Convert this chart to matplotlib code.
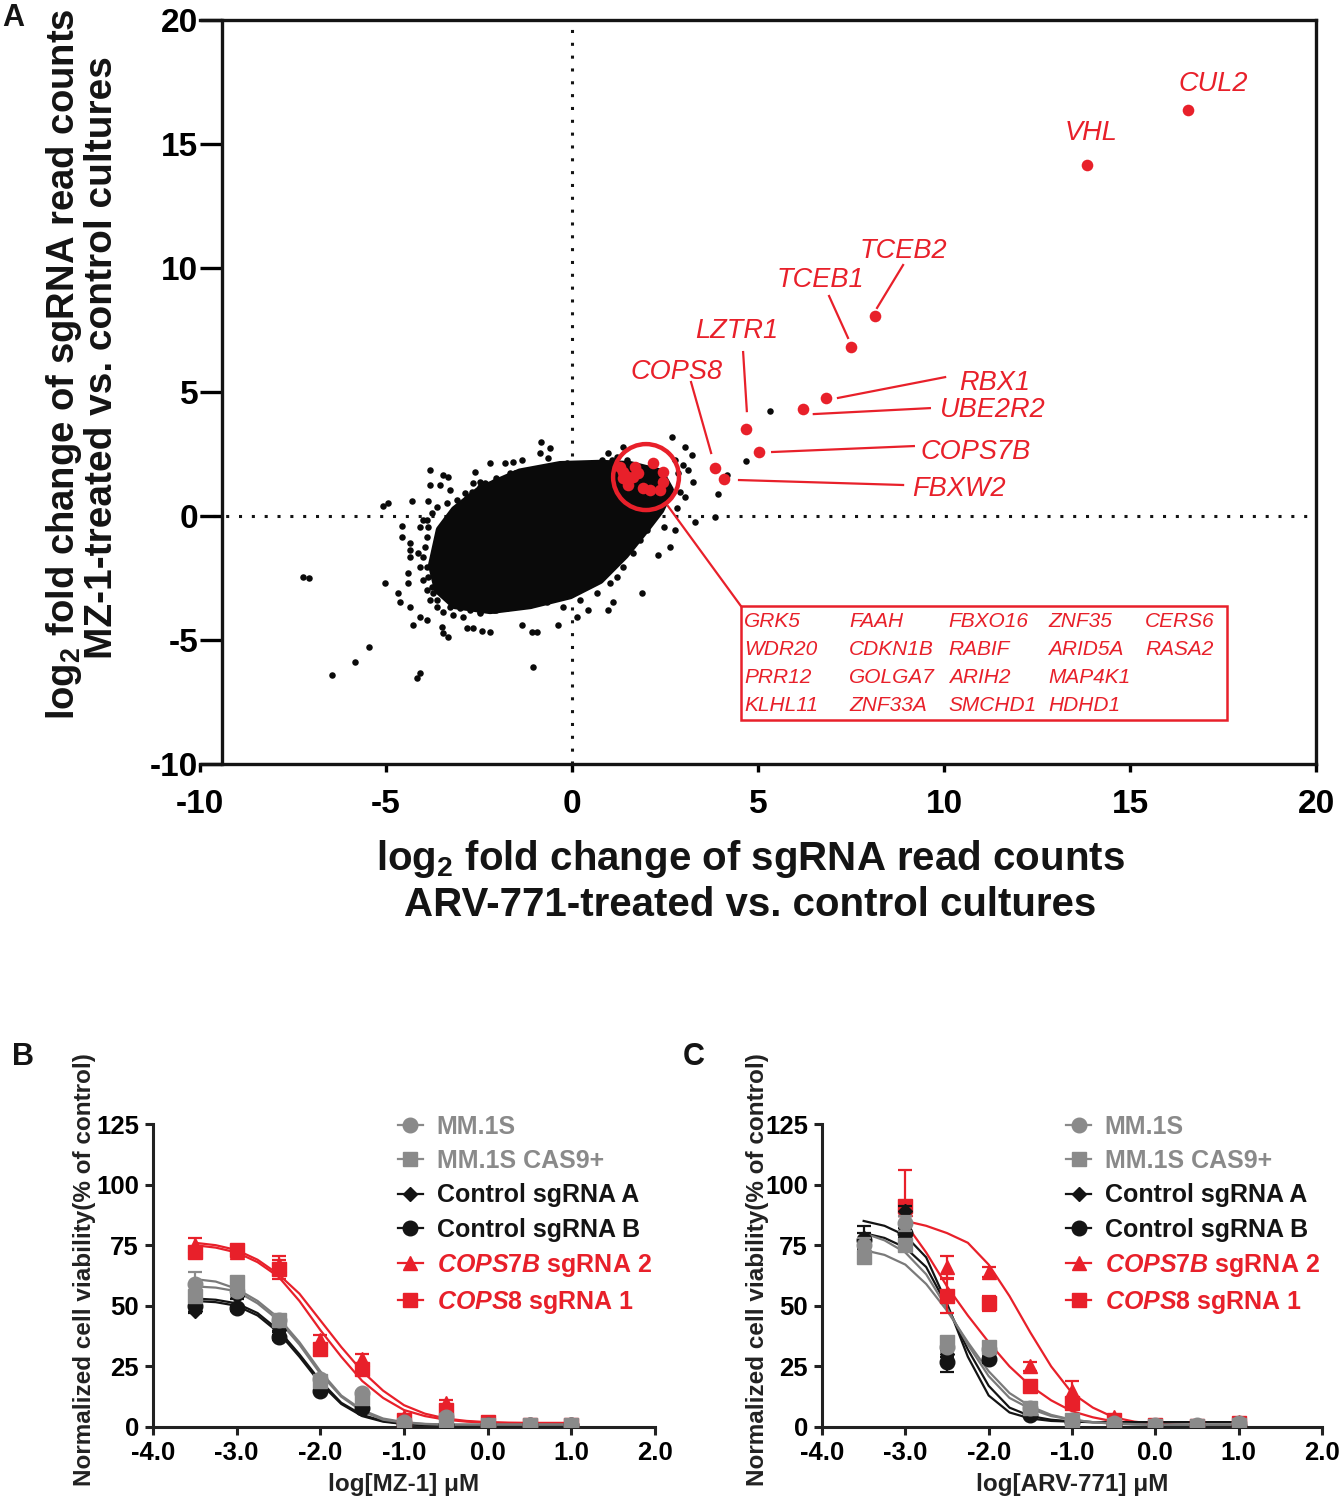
import matplotlib
matplotlib.use('Agg')
import matplotlib.pyplot as plt
from matplotlib.patches import Ellipse, Rectangle
from matplotlib.lines import Line2D

plt.rcParams['font.family'] = ['Liberation Sans', 'DejaVu Sans']
plt.rcParams['font.weight'] = 'bold'
plt.rcParams['axes.unicode_minus'] = False
plt.rcParams['mathtext.fontset'] = 'custom'
plt.rcParams['mathtext.rm'] = 'Liberation Sans:bold'
plt.rcParams['mathtext.bf'] = 'Liberation Sans:bold'
plt.rcParams['mathtext.it'] = 'Liberation Sans:italic:bold'

RED = '#e8202a'
GRAY = '#8a8a8a'
BLACK = '#141414'

# ---------------- panel A data ----------------
# labelled hits (ARV-771 log2FC, MZ-1 log2FC)
hit_genes = ['CUL2', 'VHL', 'TCEB2', 'TCEB1', 'RBX1', 'UBE2R2', 'LZTR1', 'COPS7B', 'COPS8', 'FBXW2']
hit_x = [16.56, 13.84, 8.15, 7.50, 6.83, 6.21, 4.68, 5.03, 3.84, 4.09]
hit_y = [16.37, 14.15, 8.06, 6.81, 4.76, 4.31, 3.51, 2.58, 1.94, 1.49]

# hits inside the red circle
circled_x = [1.29, 1.69, 2.18, 2.45, 1.37, 1.64, 1.51, 1.91, 2.10, 2.37, 2.45, 1.37, 1.77, 1.45]
circled_y = [1.98, 1.98, 2.14, 1.77, 1.53, 1.57, 1.25, 1.13, 1.05, 1.05, 1.37, 1.77, 1.73, 1.60]
circled_genes = [['GRK5', 'WDR20', 'PRR12', 'KLHL11'],
                 ['FAAH', 'CDKN1B', 'GOLGA7', 'ZNF33A'],
                 ['FBXO16', 'RABIF', 'ARIH2', 'SMCHD1'],
                 ['ZNF35', 'ARID5A', 'MAP4K1', 'HDHD1'],
                 ['CERS6', 'RASA2']]

# outline of the saturated core of the sgRNA cloud
cloud_x = [-3.76, -3.55, -3.15, -2.47, -1.40, -0.32, 0.75, 1.56, 2.37, 2.63, 2.37,
           1.96, 1.42, 0.75, -0.05, -1.13, -2.20, -3.15, -3.60]
cloud_y = [-1.98, -0.56, 0.24, 1.05, 1.75, 2.05, 2.10, 2.05, 1.75, 1.05, 0.24,
           -0.56, -1.57, -2.58, -3.19, -3.59, -3.79, -3.59, -2.98]

# individual sgRNAs around the core
other_x = [-0.82, -0.59, -0.86, -0.64, -1.35, -1.58, -1.80, -2.20, -3.82, -3.46, -3.32, -2.61,
           -0.14, 1.38, 2.68, 3.04, 3.22, 2.99, 3.26, 2.90, 3.04, 2.81, 3.31, 2.46, 2.77, 2.63,
           2.32, 1.87, 1.11, 0.98, 0.44, 0.13, -0.37, -0.95, -1.08, -1.04, -1.35, -2.20, -2.43,
           -2.65, -2.83, -3.32, -3.46, -3.50, -3.91, -4.09, -4.27, -4.35, -4.67, -4.62, -5.03,
           -5.47, -5.83, -6.46, -4.18, -4.09, -7.22, -7.06, -4.58, -4.58, -4.35, -4.35, -4.35,
           -4.40, -4.40, -5.07, -4.94, -4.31, -3.86, -3.82, -3.55, -3.28, 3.84,
           -2.65, -2.47, -2.25, -2.03, -1.67, -1.40, -1.04, -0.68, -0.41, 0.04, 0.30, 0.57, 0.80,
           0.98, 1.11, 2.77, 2.86, 3.13, -4.09, -3.91, -3.77, -3.64, -3.37, -3.10, -2.88, -4.13,
           -4.09, -4.00, -3.91, -3.82, -3.64, -3.46, -3.19, -2.92, -2.47, -2.03, -1.58, -1.13,
           -0.68, -0.23, 0.22, 0.66, 1.02, 1.20, 1.38, 1.65, 1.83, 2.01, 2.10, 2.19, 2.28,
           5.32, 4.68, 3.92, 4.17,
           -2.83, -2.70, -2.47, -2.34, -2.11, -1.94, -1.67, -1.53, -1.22, -0.95, -0.77, -0.50,
           -0.28, -0.05, 0.22, 0.44, 0.66, 0.89, 1.07, 1.20, 1.47, -4.00, -3.86, -3.91, -3.95,
           -4.00, -3.91, -3.86, -3.77, -3.73, -3.64, -3.28, -3.01, -2.74, -2.47, -2.11, -1.76,
           -1.40, -1.04, -0.68, -0.32, -0.05, 0.26, 0.53, 0.75, 0.98, 1.16, 1.34, 1.51, 1.65,
           1.78, 1.92, 2.01, 2.10, 2.19]
other_y = [3.00, 2.73, 2.53, 2.33, 2.26, 2.19, 2.12, 2.12, 1.85, 1.65, 1.59, 1.79,
           2.12, 2.80, 3.20, 2.80, 2.46, 2.06, 1.38, 0.98, 0.78, 0.31, -0.23, -0.43, -0.56, -1.24,
           -1.57, -3.12, -3.45, -3.79, -3.79, -4.06, -4.40, -4.66, -4.66, -6.08, -4.40, -4.66, -4.62,
           -4.53, -4.53, -4.87, -4.73, -4.46, -4.19, -4.06, -4.40, -3.66, -3.12, -3.45, -2.69,
           -5.27, -5.90, -6.41, -6.55, -6.34, -2.45, -2.49, -0.83, -0.40, -1.08, -1.37, -1.64,
           -2.31, -2.72, 0.40, 0.51, 0.62, 0.62, 1.25, 1.25, 1.05, -0.03,
           1.32, 1.38, 1.05, 1.52, 1.72, 1.79, 1.85, 1.92, 1.85, 1.99, 2.06, 2.12, 2.26,
           2.53, 1.99, 2.26, 1.72, 1.85, -0.43, -0.16, 0.11, 0.38, 0.51, 0.65, 0.91, -1.51,
           -2.04, -2.58, -2.98, -3.39, -3.66, -3.86, -3.99, -4.06, -3.92, -3.79, -3.66, -3.59,
           -3.45, -3.66, -3.39, -3.12, -2.72, -2.45, -2.04, -1.51, -0.97, -0.56, -0.16, 0.11, 0.51,
           4.23, 2.22, 0.89, 1.65,
           0.71, 0.98, 1.18, 1.32, 1.38, 1.45, 1.52, 1.72, 1.59, 1.72, 1.85, 1.99,
           1.72, 1.85, 1.92, 1.85, 1.99, 2.06, 2.26, 2.39, 2.26, -0.16, -0.43, -0.83, -1.24,
           -1.64, -2.04, -2.45, -2.85, -3.12, -3.39, -3.66, -3.72, -3.79, -3.86, -3.79, -3.72,
           -3.59, -3.45, -3.39, -3.25, -3.12, -2.92, -2.72, -2.45, -2.18, -1.91, -1.64, -1.30, -0.97,
           -0.70, -0.43, -0.03, 0.31, 0.71]

# label placement: text (x, y) and leader line (x0, y0, x1, y1)
label_text_pos = {'CUL2': (17.23, 17.42), 'VHL': (13.95, 15.44), 'TCEB2': (8.92, 10.69),
                  'TCEB1': (6.67, 9.52), 'LZTR1': (4.44, 7.46), 'COPS8': (2.80, 5.81),
                  'RBX1': (11.37, 5.36), 'UBE2R2': (11.32, 4.27), 'COPS7B': (10.86, 2.58),
                  'FBXW2': (10.40, 1.09)}
leader_lines = {'TCEB2': (8.90, 10.12, 8.20, 8.39), 'TCEB1': (6.91, 8.87, 7.42, 7.18),
                'LZTR1': (4.60, 6.61, 4.70, 4.23), 'COPS8': (3.20, 5.40, 3.74, 2.54),
                'RBX1': (10.03, 5.60, 7.15, 4.76), 'UBE2R2': (9.62, 4.35, 6.50, 4.11),
                'COPS7B': (9.19, 2.82, 5.38, 2.58), 'FBXW2': (8.90, 1.25, 4.49, 1.45)}

# ---------------- panels B / C data ----------------
series_names = ['MM.1S', 'MM.1S CAS9+', 'Control sgRNA A', 'Control sgRNA B',
                'COPS7B sgRNA 2', 'COPS8 sgRNA 1']
conc = [-3.5, -3.0, -2.5, -2.0, -1.5, -1.0, -0.5, 0.0, 0.5, 1.0]
nan = float('nan')

mz1_vals = {
    'MM.1S': [59, 56, 44, 20, 14, 2, 4, 1, 1, 1],
    'MM.1S CAS9+': [54, 60, 44, 19, 12, 1, 3, 1, 1, 1],
    'Control sgRNA A': [48, 54, 40, 17, 8, 1, 1, 1, 1, 1],
    'Control sgRNA B': [50, 49, 37, 15, 8, 1, 1, 1, 1, 1],
    'COPS7B sgRNA 2': [75, 72, 67, 36, 28, 4, 10, 2, 1, 1],
    'COPS8 sgRNA 1': [72, 73, 65, 32, 24, 3, 7, 2, 1, 1],
}
mz1_err = {
    'MM.1S': [5, 2, 2, 1, 1, 0.5, 0.5, 0.5, 0.3, 0.3],
    'MM.1S CAS9+': [2, 2, 2, 1, 1, 0.5, 0.5, 0.5, 0.3, 0.3],
    'Control sgRNA A': [1, 1, 1, 1, 1, 0.5, 0.5, 0.3, 0.3, 0.3],
    'Control sgRNA B': [1, 1, 1, 1, 1, 0.5, 0.5, 0.3, 0.3, 0.3],
    'COPS7B sgRNA 2': [3, 1, 3.5, 2, 2, 0.5, 1, 0.5, 0.3, 0.3],
    'COPS8 sgRNA 1': [2, 1.5, 4, 2, 2, 0.5, 1, 0.5, 0.3, 0.3],
}
arv_vals = {
    'MM.1S': [75, 84, 33, 32, 8, 3, 1.5, 1, 1, 1.5],
    'MM.1S CAS9+': [70, 75, 35, 33, 8, 3, 1, 0.5, 0.5, 1],
    'Control sgRNA A': [78, 89, 30, 28, 6, 2, 1, 1, 1, 1],
    'Control sgRNA B': [77, 80, 27, 28, 5, 2, 1, 0.5, 0.5, 0.5],
    'COPS7B sgRNA 2': [nan, 90, 66, 64, 25, 15, 4, 1, 1, 2],
    'COPS8 sgRNA 1': [nan, 91, 54, 51, 17, 10, 3, 1, 0.5, 1.5],
}
arv_err = {
    'MM.1S': [3, 3, 2, 2, 1, 0.5, 0.5, 0.3, 0.3, 0.3],
    'MM.1S CAS9+': [1, 1, 1, 1, 1, 0.5, 0.5, 0.3, 0.3, 0.3],
    'Control sgRNA A': [5, 2, 1, 1, 1, 0.5, 0.5, 0.3, 0.3, 0.3],
    'Control sgRNA B': [3, 2, 4.5, 1.5, 1, 0.5, 0.5, 0.3, 0.3, 0.3],
    'COPS7B sgRNA 2': [nan, 3, 4.5, 2, 2, 4, 1, 0.5, 0.3, 0.8],
    'COPS8 sgRNA 1': [nan, 15, 7, 3, 2, 2, 1, 0.5, 0.3, 0.5],
}

# fitted dose-response curves
fit_x = [-3.5, -3.25, -3.0, -2.75, -2.5, -2.25, -2.0, -1.75, -1.5, -1.25,
         -1.0, -0.75, -0.5, -0.25, 0.0, 0.25, 0.5, 0.75, 1.0]
fit_x_late = [-3.0, -2.75, -2.5, -2.25, -2.0, -1.75, -1.5, -1.25,
              -1.0, -0.75, -0.5, -0.25, 0.0, 0.25, 0.5, 0.75, 1.0]
mz1_fit = {
    'MM.1S': [61, 60, 57, 52, 45, 35, 23, 13, 7, 3.5, 2, 1.3, 1, 1, 1, 1, 1, 1, 1],
    'MM.1S CAS9+': [58, 57.5, 56, 51, 44, 34, 22, 12.5, 6.5, 3, 1.8, 1.2, 1, 1, 1, 1, 1, 1, 1],
    'Control sgRNA A': [53, 52.5, 51, 47, 40, 30, 19, 10, 5, 2.5, 1.3, 0.8, 0.6, 0.5, 0.5, 0.5, 0.5, 0.5, 0.5],
    'Control sgRNA B': [52, 51.5, 50, 46, 39, 29, 18, 9.5, 4.5, 2.2, 1.2, 0.7, 0.5, 0.5, 0.5, 0.5, 0.5, 0.5, 0.5],
    'COPS7B sgRNA 2': [76, 75, 73, 69, 63, 55, 44, 33, 23, 15, 9, 5.5, 3.5, 2.5, 2, 1.8, 1.7, 1.7, 1.7],
    'COPS8 sgRNA 1': [75, 74, 72, 68, 62, 52, 40, 29, 19, 12, 7, 4.5, 3, 2.2, 1.8, 1.6, 1.5, 1.5, 1.5],
}
arv_fit = {
    'MM.1S': [80, 77, 72, 63, 49, 34, 21, 12, 7.5, 4.5, 3, 2, 1.5, 1.2, 1, 1, 1, 1, 1],
    'MM.1S CAS9+': [73, 71, 67, 59, 48, 35, 23, 14, 8.5, 5, 3, 2, 1.3, 1, 0.8, 0.7, 0.7, 0.7, 0.7],
    'Control sgRNA A': [85, 83, 79, 70, 51, 29, 13, 6, 3.5, 2.5, 2.2, 2, 2, 2, 2, 2, 2, 2, 2],
    'Control sgRNA B': [80, 78, 74, 66, 50, 32, 17, 8, 4.5, 3, 2.3, 2, 2, 2, 2, 2, 2, 2, 2],
    'COPS7B sgRNA 2': [85, 83, 80, 76, 67, 54, 39, 25, 14, 8, 4, 2.2, 1.3, 0.9, 0.7, 0.6, 0.6],
    'COPS8 sgRNA 1': [84, 72, 58, 46, 35, 25, 17, 11, 6.5, 4, 2.3, 1.5, 1, 0.7, 0.6, 0.5, 0.5],
}

styles = {
    'MM.1S': (GRAY, 'o', 10.5),
    'MM.1S CAS9+': (GRAY, 's', 10.5),
    'Control sgRNA A': (BLACK, 'D', 7.5),
    'Control sgRNA B': (BLACK, 'o', 10.5),
    'COPS7B sgRNA 2': (RED, '^', 10.5),
    'COPS8 sgRNA 1': (RED, 's', 10.5),
}
legend_labels = ['MM.1S', 'MM.1S CAS9+', 'Control sgRNA A', 'Control sgRNA B',
                 r'$\mathit{COPS7B}$ sgRNA 2', r'$\mathit{COPS8}$ sgRNA 1']

W, H = 1341, 1500
fig = plt.figure(figsize=(W / 100, H / 100), dpi=100)


def px_box(l, t, r, b):
    return [l / W, 1 - b / H, (r - l) / W, (b - t) / H]


# ================= panel A =================
ax = fig.add_axes(px_box(200, 20, 1316, 764))
ax.set_xlim(-10, 20)
ax.set_ylim(-10, 20)
ax.axvline(0, color=BLACK, lw=2.2, ls=(0, (1, 3.2)), zorder=1)
ax.axhline(0, color=BLACK, lw=2.2, ls=(0, (1, 3.2)), zorder=1)
ax.fill(cloud_x, cloud_y, color='#0a0a0a', lw=6, joinstyle='round', zorder=2)
ax.scatter(other_x, other_y, s=22, color='#0a0a0a', lw=0, zorder=2)
ax.scatter(circled_x, circled_y, s=70, color=RED, lw=0, zorder=4)
ax.scatter(hit_x, hit_y, s=70, color=RED, lw=0, zorder=4)

for g in hit_genes:
    tx, ty = label_text_pos[g]
    ax.text(tx, ty, g, color=RED, fontsize=19.5, style='italic', weight='normal',
            ha='center', va='center')
    if g in leader_lines:
        x0, y0, x1, y1 = leader_lines[g]
        ax.plot([x0, x1], [y0, y1], color=RED, lw=1.6, zorder=3)

ax.add_patch(Ellipse((1.99, 1.57), 1.77, 2.66, fill=False, ec=RED, lw=3.2, zorder=5))
box_x0, box_y0, box_w, box_h = 4.54, -8.23, 13.06, 4.60
ax.plot([2.58, box_x0], [0.40, box_y0 + box_h], color=RED, lw=1.6, zorder=3)
ax.add_patch(Rectangle((box_x0, box_y0), box_w, box_h, fill=False, ec=RED, lw=1.8, zorder=3))
col_off = [0.08, 2.91, 5.59, 8.26, 10.87]
row_off = [0.64, 1.77, 2.90, 4.03]
for ci, col in enumerate(circled_genes):
    for ri, g in enumerate(col):
        ax.text(box_x0 + col_off[ci], box_y0 + box_h - row_off[ri], g, color=RED,
                fontsize=15, style='italic', weight='normal', ha='left', va='center')

ax.spines['left'].set_position(('data', -9.41))
for s in ax.spines.values():
    s.set_linewidth(2.4)
    s.set_color(BLACK)
ax.set_xticks(range(-10, 21, 5))
ax.set_yticks(range(-10, 21, 5))
ax.tick_params(axis='y', direction='out', length=16, width=2.4, pad=1, labelsize=24)
ax.tick_params(axis='x', direction='out', length=6, width=2.4, pad=12, labelsize=24)
for lab in ax.get_xticklabels() + ax.get_yticklabels():
    lab.set_fontweight('bold')

# axis titles of panel A, one text per line
fig.text(64 / W, 1 - 364 / H, 'log$_2$ fold change of sgRNA read counts',
         rotation=90, ha='center', va='center', fontsize=27.5, fontweight='bold', color=BLACK)
fig.text(102 / W, 1 - 358 / H, 'MZ-1-treated vs. control cultures',
         rotation=90, ha='center', va='center', fontsize=28, fontweight='bold', color=BLACK)
fig.text(750 / W, 1 - 859 / H, 'log$_2$ fold change of sgRNA read counts',
         ha='center', va='center', fontsize=29, fontweight='bold', color=BLACK)
fig.text(750 / W, 1 - 905 / H, 'ARV-771-treated vs. control cultures',
         ha='center', va='center', fontsize=29, fontweight='bold', color=BLACK)
fig.text(2 / W, 1 - 18 / H, 'A', fontsize=22, fontweight='bold', va='center', color=BLACK)


# ================= panels B / C =================
def dose_panel(box, vals, errs, fits, xlabel, ylab_x, letter, letter_x):
    axp = fig.add_axes(box)
    order = ['COPS8 sgRNA 1', 'COPS7B sgRNA 2', 'Control sgRNA B', 'Control sgRNA A',
             'MM.1S CAS9+', 'MM.1S']
    for k, name in enumerate(order):
        color, mk, ms = styles[name]
        fx = fit_x if len(fits[name]) == len(fit_x) else fit_x_late
        lc = '#7a7a7a' if color == GRAY else color
        axp.plot(fx, fits[name], color=lc, lw=1.6, zorder=2)
        axp.errorbar(conc, vals[name], yerr=errs[name], fmt=mk, color=color, ms=ms,
                     mec=color, ecolor=color, elinewidth=1.6, capsize=5, capthick=1.6,
                     zorder=3 + k)
    axp.set_xlim(-4, 2)
    axp.set_ylim(0, 125)
    axp.set_xticks([-4, -3, -2, -1, 0, 1, 2])
    axp.set_xticklabels(['-4.0', '-3.0', '-2.0', '-1.0', '0.0', '1.0', '2.0'])
    axp.set_yticks([0, 25, 50, 75, 100, 125])
    axp.spines['top'].set_visible(False)
    axp.spines['right'].set_visible(False)
    for s in ('left', 'bottom'):
        axp.spines[s].set_linewidth(2.2)
        axp.spines[s].set_color('#222222')
    axp.tick_params(direction='out', length=6, width=2.2, labelsize=18.5, pad=4,
                    color='#222222')
    for lab in axp.get_xticklabels() + axp.get_yticklabels():
        lab.set_fontweight('bold')
    handles = [Line2D([], [], color=styles[n][0], marker=styles[n][1], ms=styles[n][2],
                      lw=1.6) for n in series_names]
    leg = axp.legend(handles, legend_labels, loc='upper left', bbox_to_anchor=(0.488, 1.03),
                     frameon=False, borderpad=0, borderaxespad=0, handlelength=1.0,
                     handletextpad=0.55, labelspacing=0.41,
                     prop={'family': 'Liberation Sans', 'weight': 'bold', 'size': 18})
    for t, n in zip(leg.get_texts(), series_names):
        t.set_color(styles[n][0])
    x_mid = box[0] + box[2] / 2
    fig.text(x_mid, 1 - 1485 / H, xlabel, ha='center', va='center', fontsize=17.5,
             fontweight='bold', color='#222222')
    fig.text(ylab_x / W, 1 - 1270 / H, 'Normalized cell viability(% of control)',
             rotation=90, ha='center', va='center', fontsize=17.5, fontweight='bold',
             color='#222222')
    fig.text(letter_x / W, 1 - 1057 / H, letter, fontsize=22, fontweight='bold',
             va='center', color=BLACK)
    return axp


dose_panel(px_box(153, 1124, 655, 1427), mz1_vals, mz1_err, mz1_fit,
           'log[MZ-1] μM', 85, 'B', 12)
dose_panel(px_box(822, 1124, 1322, 1427), arv_vals, arv_err, arv_fit,
           'log[ARV-771] μM', 757, 'C', 683)

fig.savefig('out.png', dpi=100)
